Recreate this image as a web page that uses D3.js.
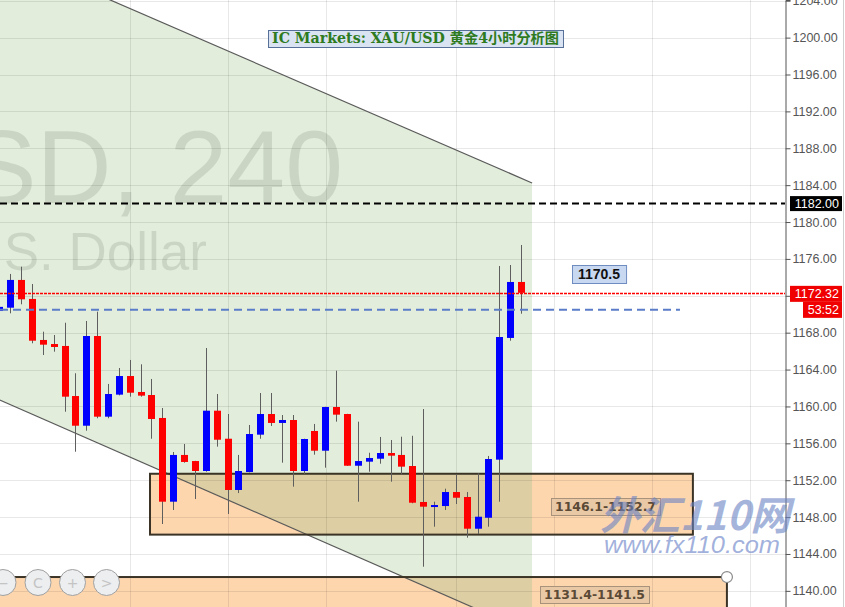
<!DOCTYPE html>
<html>
<head>
<meta charset="utf-8">
<script src="https://cdn.jsdelivr.net/npm/d3@7"></script>
<style>
html,body{margin:0;padding:0;background:#fff;overflow:hidden}
svg{display:block}
</style>
</head>
<body>
<svg id="chart" width="845" height="607"></svg>
<script>
// ---------------- DATA ----------------
const titleText = "IC Markets: XAU/USD 黄金4小时分析图";
const symbolText = "XAUUSD, 240";
const descText = "Gold Spot / U.S. Dollar";

const opens  = [1170.35,1170.71,1173.72,1171.66,1167.21,1166.77,1166.56,1161.13,1157.91,1167.64,
                1158.89,1161.28,1163.30,1161.57,1161.24,1158.75,1149.67,1154.74,1154.08,1153.00,
                1159.54,1156.50,1150.94,1152.89,1156.94,1159.18,1158.21,1158.53,1153.00,1157.34,
                1155.20,1159.94,1159.18,1153.57,1154.01,1154.33,1154.95,1154.74,1153.54,1149.64,
                1149.13,1149.20,1150.72,1150.18,1146.74,1147.93,1154.23,1167.43,1173.50];
const highs  = [1171.10,1174.37,1175.16,1173.28,1168.11,1167.75,1169.08,1163.60,1169.27,1170.28,
                1162.44,1164.17,1165.04,1164.57,1162.98,1159.83,1155.06,1155.93,1154.10,1166.34,
                1161.35,1159.18,1154.74,1157.99,1161.46,1161.46,1159.07,1159.07,1156.50,1158.10,
                1159.96,1163.88,1159.20,1158.35,1154.98,1156.69,1156.36,1156.72,1156.82,1159.72,
                1149.67,1151.08,1152.64,1150.72,1152.75,1154.63,1175.23,1175.34,1177.51];
const lows   = [1170.10,1170.10,1171.08,1166.85,1165.58,1165.94,1159.43,1155.09,1157.37,1158.72,
                1158.72,1161.20,1161.06,1161.06,1156.50,1147.25,1148.77,1153.90,1149.96,1152.92,
                1155.64,1148.34,1150.61,1152.85,1156.50,1157.88,1153.90,1151.30,1152.67,1154.77,
                1153.36,1158.35,1153.55,1149.67,1152.92,1153.79,1151.84,1152.57,1149.50,1142.62,
                1146.96,1148.77,1149.42,1145.77,1146.17,1146.96,1149.67,1167.13,1170.06];
const closes = [1170.80,1173.72,1171.62,1167.13,1166.70,1166.45,1161.06,1157.91,1167.64,1158.89,
                1161.35,1163.30,1161.49,1161.17,1158.64,1149.67,1154.74,1153.98,1153.00,1159.54,
                1156.39,1150.94,1153.00,1157.01,1159.18,1158.21,1158.53,1153.00,1156.47,1155.20,
                1159.94,1159.11,1153.57,1154.08,1154.41,1154.95,1154.66,1153.47,1149.56,1149.13,
                1149.31,1150.72,1150.10,1146.74,1148.04,1154.30,1167.53,1173.50,1172.32];

const priceTicks = d3.range(1140, 1205, 4);          // 1140 ... 1204
const timeGridBars = [12, 21, 30, 42, 51, 60, 69];    // bar indices of vertical grid lines

// trend channel (bar index, price)
const channelUpper = [[-2, 1210.30], [48.97, 1184.24]];
const channelLower = [[-2, 1161.73], [48.97, 1135.40]];

// support zones
const zoneFrom  = [13.82, -5];
const zoneTo    = [63.77, 66.9];
const zoneLow   = [1146.1, 1131.4];
const zoneHigh  = [1152.7, 1141.5];
const zoneLabel = ["1146.1-1152.7", "1131.4-1141.5"];

// horizontal levels
const resistanceLevel = 1182.00;
const lastPrice = 1172.32;
const countdown = "53:52";
const pivotLevel = 1170.5;
const pivotLabel = "1170.5";
const pivotEndBar = 62.58;

// ---------------- DRAW ----------------
const W = 845, H = 607, plotRight = 785;
const svg = d3.select("#chart");
const x = d3.scaleLinear().domain([0, 48]).range([-0.2, 521.5]);
const y = d3.scaleLinear().domain([1138.25, 1204.08]).range([H, 0]);

const defs = svg.append("defs");
defs.append("clipPath").attr("id", "plotClip")
  .append("rect").attr("x", 0).attr("y", 0).attr("width", plotRight).attr("height", H);

const channelPoly = channelUpper.concat(channelLower.slice().reverse());
const polyPath = d3.line().x(d => x(d[0])).y(d => y(d[1]))(channelPoly) + "Z";
defs.append("clipPath").attr("id", "greenClip").append("path").attr("d", polyPath);

svg.append("rect").attr("width", W).attr("height", H).attr("fill", "#fff");

const plot = svg.append("g").attr("clip-path", "url(#plotClip)");

// channel fill
plot.append("path").attr("d", polyPath).attr("fill", "#e2eedb");

// zone fills
const zones = zoneFrom.map((f, i) => ({from: f, to: zoneTo[i], low: zoneLow[i], high: zoneHigh[i], label: zoneLabel[i]}));
zones.forEach(z => {
  plot.append("rect")
    .attr("x", x(z.from)).attr("y", y(z.high))
    .attr("width", x(z.to) - x(z.from)).attr("height", y(z.low) - y(z.high))
    .attr("fill", "#fdd6ae");
  plot.append("rect")
    .attr("clip-path", "url(#greenClip)")
    .attr("x", x(z.from)).attr("y", y(z.high))
    .attr("width", x(z.to) - x(z.from)).attr("height", y(z.low) - y(z.high))
    .attr("fill", "#ddcea3");
});

// grid
plot.append("g").selectAll("line").data(priceTicks).join("line")
  .attr("x1", 0).attr("x2", plotRight)
  .attr("y1", d => Math.round(y(d)) + 0.5).attr("y2", d => Math.round(y(d)) + 0.5)
  .attr("stroke", "rgba(0,0,0,0.09)");
plot.append("g").selectAll("line").data(timeGridBars).join("line")
  .attr("x1", d => Math.round(x(d)) + 0.5).attr("x2", d => Math.round(x(d)) + 0.5)
  .attr("y1", 0).attr("y2", H)
  .attr("stroke", "rgba(0,0,0,0.09)");

// symbol watermark
plot.append("text").attr("x", 343).attr("y", 203).attr("text-anchor", "end")
  .attr("font-family", "Liberation Sans, Arial, sans-serif").attr("font-size", 104)
  .attr("fill", "rgba(0,0,0,0.1)").text(symbolText);
plot.append("text").attr("x", 207).attr("y", 270).attr("text-anchor", "end")
  .attr("font-family", "Liberation Sans, Arial, sans-serif").attr("font-size", 53)
  .attr("fill", "rgba(0,0,0,0.1)").text(descText);

// channel lines
[channelUpper, channelLower].forEach(l => {
  plot.append("line")
    .attr("x1", x(l[0][0])).attr("y1", y(l[0][1]))
    .attr("x2", x(l[1][0])).attr("y2", y(l[1][1]))
    .attr("stroke", "#5a5a5a").attr("stroke-width", 1.2);
});

// zone outlines
zones.forEach(z => {
  plot.append("rect")
    .attr("x", x(z.from)).attr("y", y(z.high))
    .attr("width", x(z.to) - x(z.from)).attr("height", y(z.low) - y(z.high))
    .attr("fill", "none").attr("stroke", "#3b3426").attr("stroke-width", 2);
});

// candles
const bars = opens.map((o, i) => ({i, o, h: highs[i], l: lows[i], c: closes[i]}));
const cg = plot.append("g");
bars.forEach(b => {
  const left = Math.round(x(b.i) - 3.5);
  const up = b.c >= b.o;
  cg.append("line")
    .attr("x1", left + 3.5).attr("x2", left + 3.5)
    .attr("y1", y(b.h)).attr("y2", y(b.l))
    .attr("stroke", "#5e5e5e").attr("stroke-width", 1);
  const top = y(Math.max(b.o, b.c)), bot = y(Math.min(b.o, b.c));
  cg.append("rect")
    .attr("x", left).attr("width", 7)
    .attr("y", top).attr("height", Math.max(2, bot - top))
    .attr("fill", up ? "#0000ff" : "#ff0000");
});

// horizontal levels
plot.append("line").attr("x1", 0).attr("x2", plotRight)
  .attr("y1", y(resistanceLevel)).attr("y2", y(resistanceLevel))
  .attr("stroke", "#000").attr("stroke-width", 2).attr("stroke-dasharray", "7,4");
plot.append("line").attr("x1", 0).attr("x2", plotRight)
  .attr("y1", Math.round(y(lastPrice)) + 0.5).attr("y2", Math.round(y(lastPrice)) + 0.5)
  .attr("stroke", "#ff0000").attr("stroke-width", 1.3).attr("stroke-dasharray", "3,1");
plot.append("line").attr("x1", 0).attr("x2", x(pivotEndBar))
  .attr("y1", y(pivotLevel)).attr("y2", y(pivotLevel))
  .attr("stroke", "#5b7cc9").attr("stroke-width", 2).attr("stroke-dasharray", "8,5");

// label helper
function labelBox(g, lx, cy, txt, o) {
  const t = g.append("text").attr("x", lx + o.pad).attr("y", cy)
    .attr("dominant-baseline", "central")
    .attr("font-family", o.font).attr("font-size", o.size).attr("font-weight", "bold")
    .attr("fill", o.color).text(txt);
  if (o.len) t.attr("textLength", o.len).attr("lengthAdjust", "spacingAndGlyphs");
  const w = o.len || t.node().getComputedTextLength();
  g.insert("rect", "text")
    .attr("x", lx + 0.5).attr("y", Math.round(cy - o.h / 2) + 0.5)
    .attr("width", w + o.pad * 2).attr("height", o.h)
    .attr("fill", o.fill).attr("stroke", o.stroke);
}

// zone labels
const zl1 = plot.append("g");
labelBox(zl1, 551, y(1149.15), zones[0].label,
  {pad: 4, h: 17, font: "DejaVu Sans, sans-serif", size: 13, len: 101, color: "#5b4a36", fill: "#e9c8a6", stroke: "#a8927c"});
const zl2 = plot.append("g");
labelBox(zl2, 540, y(1139.58), zones[1].label,
  {pad: 4, h: 17, font: "DejaVu Sans, sans-serif", size: 13, len: 101, color: "#5b4a36", fill: "#e9c8a6", stroke: "#a8927c"});
// zone 2 handle
plot.append("circle").attr("cx", x(zones[1].to)).attr("cy", y(zones[1].high)).attr("r", 5.5)
  .attr("fill", "#fff").attr("stroke", "#8a8a8a").attr("stroke-width", 1.2);

// pivot label
const pl = plot.append("g");
labelBox(pl, 572, y(1174.4), pivotLabel,
  {pad: 6, h: 18, font: "Liberation Sans, Arial, sans-serif", size: 14, color: "#111", fill: "#c9d8f1", stroke: "#6f8cc0"});

// title
const tg = svg.append("g");
labelBox(tg, 268, 38, titleText,
  {pad: 4, h: 17, font: "DejaVu Serif, Noto Sans CJK SC, serif", size: 14, len: 287, color: "#2e7a1e", fill: "#d9e3f1", stroke: "#56709a"});

// ---------------- AXIS PANEL ----------------
svg.append("rect").attr("x", plotRight).attr("y", 0).attr("width", W - plotRight).attr("height", H).attr("fill", "#fff");
const axis = d3.axisRight(y).tickValues(priceTicks).tickSize(5).tickPadding(2).tickFormat(d3.format(".2f"));
const ag = svg.append("g").attr("transform", `translate(${plotRight + 0.5},0)`).call(axis);
ag.select(".domain").attr("stroke", "#555");
ag.selectAll(".tick line").attr("stroke", "#555");
ag.selectAll(".tick text").attr("font-family", "Liberation Sans, Arial, sans-serif")
  .attr("font-size", 12.5).attr("fill", "#555");
svg.append("line").attr("x1", 843.5).attr("x2", 843.5).attr("y1", 0).attr("y2", H).attr("stroke", "#d0d0d0");

function priceTag(txt, x0, cy, h, fill) {
  svg.append("rect").attr("x", x0).attr("y", cy - h / 2).attr("width", 842 - x0).attr("height", h).attr("fill", fill);
  svg.append("text").attr("x", 839).attr("y", cy).attr("text-anchor", "end").attr("dominant-baseline", "central")
    .attr("font-family", "Liberation Sans, Arial, sans-serif").attr("font-size", 12.5).attr("fill", "#fff").text(txt);
}
priceTag(d3.format(".2f")(resistanceLevel), 790, y(resistanceLevel), 15, "#000");
priceTag(d3.format(".2f")(lastPrice), 790, y(lastPrice) + 1, 16, "#f00000");
priceTag(countdown, 803, y(lastPrice) + 17, 16, "#f00000");

// site watermark
svg.append("text").attr("x", 600).attr("y", 530)
  .attr("font-family", "Noto Sans CJK SC, sans-serif").attr("font-weight", "bold").attr("font-style", "italic")
  .attr("font-size", 40).attr("textLength", 190).attr("lengthAdjust", "spacingAndGlyphs")
  .attr("fill", "rgba(105,130,195,0.6)").text("外汇110网");
svg.append("text").attr("x", 604).attr("y", 553)
  .attr("font-family", "Liberation Sans, Arial, sans-serif").attr("font-style", "italic")
  .attr("font-size", 24).attr("textLength", 176).attr("lengthAdjust", "spacingAndGlyphs")
  .attr("fill", "rgba(120,142,205,0.7)").text("www.fx110.com");

// navigation buttons
const navGlyphs = ["−", "C", "+", ">"];
const navX = [3, 38, 72.5, 106.5];
navGlyphs.forEach((gph, i) => {
  svg.append("circle").attr("cx", navX[i]).attr("cy", 582.5).attr("r", 13)
    .attr("fill", "#eceef0").attr("stroke", "#a0a0a0").attr("stroke-width", 1);
  svg.append("text").attr("x", navX[i]).attr("y", 583).attr("text-anchor", "middle").attr("dominant-baseline", "central")
    .attr("font-family", "DejaVu Sans, sans-serif").attr("font-size", 14).attr("fill", "#c4c4c4").text(gph);
});
</script>
</body>
</html>
